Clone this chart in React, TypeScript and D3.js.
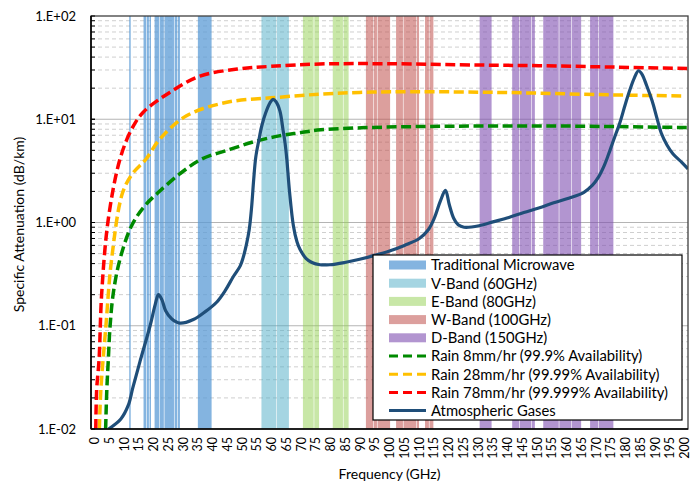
import React, { useRef, useEffect } from 'react';
import * as d3 from 'd3';

// Rain attenuation curves (frequency GHz -> dB/km)
const rain8Freq = [4.9, 5.3, 5.8, 6.4, 7.5, 9.7, 13.6, 18, 22.5, 30, 37, 46.5, 55, 63, 70, 77, 92, 110, 130, 155, 175, 200];
const rain8Val = [0.01, 0.024, 0.047, 0.1, 0.21, 0.44, 0.93, 1.45, 1.95, 3.0, 4.1, 5.1, 6.1, 6.9, 7.4, 7.9, 8.3, 8.5, 8.6, 8.6, 8.5, 8.3];

const rain28Freq = [2.8, 3.3, 5.0, 6.9, 10.6, 14, 18.4, 23, 32, 45.5, 61.6, 76.7, 90, 104, 130, 150, 175, 199];
const rain28Val = [0.01, 0.024, 0.1, 0.44, 1.95, 3.0, 4.1, 6.4, 10.8, 14.6, 16.2, 17.5, 18.2, 18.5, 18.3, 17.9, 17.2, 16.8];

const rain78Freq = [1.6, 1.9, 2.7, 3.6, 5.8, 9.7, 13.6, 17.5, 26.5, 36.5, 49, 60, 76.7, 100, 130, 150, 175, 200];
const rain78Val = [0.01, 0.024, 0.047, 0.21, 1.08, 4.1, 8.0, 11.7, 18.3, 26.2, 30.6, 32.5, 34.3, 34.5, 33.5, 33, 32, 31];

// Atmospheric gases
const gasFreq = [5.9, 10, 12.5, 14, 16.4, 19.8, 21.5, 22.6, 23.7, 25, 27, 29.8, 34.3, 38, 42, 45, 47.7, 50, 51, 52, 53, 53.8, 54.5, 55.2, 56.2, 57.2, 58.5, 60, 61, 62, 63.3, 64.3, 65, 65.6, 66.5, 67.8, 69, 70, 72, 74, 76.7, 80, 85, 90, 95, 100, 105, 110, 113, 115, 117, 118.75, 120, 121.5, 123, 125, 130, 135, 140, 145, 150, 155, 160, 165, 168, 170, 172, 173.3, 175, 177.2, 179, 180.6, 182, 183.4, 184.5, 186.2, 188, 189.5, 191, 193, 195, 198, 200];
const gasVal = [0.01, 0.0125, 0.017, 0.025, 0.045, 0.1, 0.16, 0.2, 0.18, 0.14, 0.117, 0.106, 0.115, 0.135, 0.168, 0.22, 0.3, 0.38, 0.46, 0.6, 0.85, 1.4, 2.6, 4.3, 6.2, 8.6, 11.5, 14.5, 15.6, 14.8, 12.0, 8.0, 5.9, 4.1, 2.0, 0.93, 0.65, 0.55, 0.45, 0.41, 0.39, 0.39, 0.41, 0.44, 0.48, 0.53, 0.6, 0.7, 0.85, 1.1, 1.6, 2.05, 1.5, 1.1, 0.95, 0.9, 0.93, 1.02, 1.12, 1.25, 1.38, 1.55, 1.72, 1.95, 2.3, 2.75, 3.6, 4.5, 6.2, 9.3, 14, 19.5, 25, 29.5, 27.5, 21, 15, 10.5, 7.4, 5.6, 4.6, 3.8, 3.3];

// Frequency bands (GHz)
const microwaveBands = [[12.8, 13.3], [17.6, 18.5], [18.7, 19.4], [19.6, 20.1], [21.3, 22.8], [23.0, 24.4], [24.6, 27.8], [28.0, 28.9], [29.1, 29.8], [35.8, 40.4]];
const vBands = [[57.1, 62.1], [62.3, 66.3]];
const eBands = [[71, 74.6], [74.8, 76.4], [81, 84.4], [84.6, 86.3]];
const wBands = [[92.1, 94.5], [94.7, 95.8], [96.0, 100.2], [102.2, 104.5], [104.7, 109.0], [109.2, 109.9], [111.9, 113.2], [113.4, 114.7]];
const dBands = [[130.2, 134.2], [141.1, 143.4], [143.6, 147.5], [147.7, 148.7], [151.5, 156.7], [156.9, 160.9], [161.1, 164.2], [167.2, 169.9], [170.1, 175]];

const xTickValues = [0, 5, 10, 15, 20, 25, 30, 35, 40, 45, 50, 55, 60, 65, 70, 75, 80, 85, 90, 95, 100, 105, 110, 115, 120, 125, 130, 135, 140, 145, 150, 155, 160, 165, 170, 175, 180, 185, 190, 195, 200];
const yTickValues = [0.01, 0.1, 1, 10, 100];
const yTickLabels = ['1.E-02', '1.E-01', '1.E+00', '1.E+01', '1.E+02'];

const legendNames = [
    'Traditional Microwave', 'V-Band (60GHz)', 'E-Band (80GHz)', 'W-Band (100GHz)', 'D-Band (150GHz)',
    'Rain 8mm/hr (99.9% Availability)', 'Rain 28mm/hr (99.99% Availability)', 'Rain 78mm/hr (99.999% Availability)',
    'Atmospheric Gases'
];

const FONT = "Lato, 'Open Sans', sans-serif";

const App = () => {
    const svgRef = useRef<SVGSVGElement>(null);

    useEffect(() => {
        const svg = d3.select(svgRef.current);
        svg.selectAll('*').remove();

        const left = 91, right = 688, top = 16, bottom = 429;
        const x = d3.scaleLinear().domain([0, 200]).range([left, right]);
        // labels sit slightly inside the ends of the axis
        const xLabel = d3.scaleLinear().domain([0, 200]).range([94.5, 684.5]);
        const y = d3.scaleLog().domain([0.01, 100]).range([bottom, top]);

        // clip for curves
        svg.append('defs').append('clipPath').attr('id', 'plotclip')
            .append('rect').attr('x', left).attr('y', top).attr('width', right - left).attr('height', bottom - top);

        // grid lines
        const grid = svg.append('g');
        [0.01, 0.1, 1, 10].forEach(dec => {
            for (let m = 2; m <= 9; m++) {
                grid.append('line')
                    .attr('x1', left).attr('x2', right)
                    .attr('y1', y(dec * m)).attr('y2', y(dec * m))
                    .attr('stroke', '#cfcfcf').attr('stroke-width', 1).attr('stroke-dasharray', '4,3');
            }
            if (dec > 0.01) {
                grid.append('line')
                    .attr('x1', left).attr('x2', right)
                    .attr('y1', y(dec)).attr('y2', y(dec))
                    .attr('stroke', '#b4b4b4').attr('stroke-width', 1.2);
            }
        });

        // bands
        const bandSets = [
            { ranges: microwaveBands, color: '#5B9BD5', op: 0.75 },
            { ranges: vBands, color: '#4BACC6', op: 0.5 },
            { ranges: eBands, color: '#92D050', op: 0.5 },
            { ranges: wBands, color: '#C0504D', op: 0.55 },
            { ranges: dBands, color: '#7F4FB0', op: 0.6 },
        ];
        const bandsG = svg.append('g');
        bandSets.forEach(b => {
            bandsG.selectAll(null)
                .data(b.ranges)
                .enter()
                .append('rect')
                .attr('x', d => x(d[0]))
                .attr('width', d => x(d[1]) - x(d[0]))
                .attr('y', top)
                .attr('height', bottom - top)
                .attr('fill', b.color)
                .attr('fill-opacity', b.op);
        });

        // curves
        const line = d3.line<[number, number]>()
            .x(d => x(d[0]))
            .y(d => y(d[1]))
            .curve(d3.curveCatmullRom.alpha(0.5));
        const curves = [
            { f: rain8Freq, v: rain8Val, color: '#008A00', dash: '10,4.5', w: 3.5 },
            { f: rain28Freq, v: rain28Val, color: '#FFC000', dash: '10,4.5', w: 3.5 },
            { f: rain78Freq, v: rain78Val, color: '#FF0000', dash: '10,4.5', w: 3.5 },
            { f: gasFreq, v: gasVal, color: '#1F4E79', dash: null, w: 3.2 },
        ];
        const curvesG = svg.append('g').attr('clip-path', 'url(#plotclip)');
        curves.forEach(c => {
            const pts = c.f.map((f, i) => [f, c.v[i]] as [number, number]);
            curvesG.append('path')
                .attr('d', line(pts))
                .attr('fill', 'none')
                .attr('stroke', c.color)
                .attr('stroke-width', c.w)
                .attr('stroke-dasharray', c.dash)
                .attr('stroke-linejoin', 'round');
        });

        // frame
        svg.append('rect')
            .attr('x', left).attr('y', top).attr('width', right - left).attr('height', bottom - top)
            .attr('fill', 'none').attr('stroke', '#404040').attr('stroke-width', 1.3);
        svg.append('line').attr('x1', left).attr('x2', left).attr('y1', top).attr('y2', bottom)
            .attr('stroke', '#000').attr('stroke-width', 1.6);
        svg.append('line').attr('x1', left).attr('x2', right).attr('y1', bottom).attr('y2', bottom)
            .attr('stroke', '#000').attr('stroke-width', 1.6);

        // y ticks (inside)
        const yt = svg.append('g');
        [0.01, 0.1, 1, 10].forEach(dec => {
            for (let m = 1; m <= 10; m++) {
                yt.append('line')
                    .attr('x1', left).attr('x2', left + 4)
                    .attr('y1', y(dec * m)).attr('y2', y(dec * m))
                    .attr('stroke', '#000').attr('stroke-width', 1);
            }
        });
        yt.selectAll('text')
            .data(yTickValues)
            .enter()
            .append('text')
            .attr('x', left - 15)
            .attr('y', d => y(d))
            .attr('dy', '0.36em')
            .attr('text-anchor', 'end')
            .style('font-family', FONT)
            .style('font-size', '13px')
            .attr('fill', '#000')
            .text((d, i) => yTickLabels[i]);

        // x tick labels (rotated)
        svg.append('g').selectAll('text')
            .data(xTickValues)
            .enter()
            .append('text')
            .attr('transform', d => `translate(${xLabel(d)},${bottom + 8}) rotate(-90)`)
            .attr('dy', '0.36em')
            .attr('text-anchor', 'end')
            .style('font-family', FONT)
            .style('font-size', '12.5px')
            .attr('fill', '#000')
            .text(d => String(d));

        // axis titles
        svg.append('text')
            .attr('x', 389.5)
            .attr('y', 479)
            .attr('text-anchor', 'middle')
            .style('font-family', FONT)
            .style('font-size', '14px')
            .text('Frequency (GHz)');
        svg.append('text')
            .attr('transform', `translate(24,${(top + bottom) / 2 + 2}) rotate(-90)`)
            .attr('text-anchor', 'middle')
            .style('font-family', FONT)
            .style('font-size', '14px')
            .text('Specific Attenuation (dB/km)');

        // legend
        const lg = svg.append('g');
        lg.append('rect')
            .attr('x', 373).attr('y', 255).attr('width', 309).attr('height', 165)
            .attr('fill', '#fff').attr('stroke', '#000').attr('stroke-width', 1.2);
        const items = legendNames.map((name, i) => {
            if (i < 5) return { name, kind: 'band', color: bandSets[i].color, op: bandSets[i].op };
            const c = curves[i - 5];
            return { name, kind: 'line', color: c.color, dash: c.dash };
        });
        items.forEach((it: any, i) => {
            const cy = 265 + i * 18.2;
            if (it.kind === 'band') {
                lg.append('rect')
                    .attr('x', 389).attr('y', cy - 4.5).attr('width', 37).attr('height', 9)
                    .attr('fill', it.color).attr('fill-opacity', it.op);
            } else {
                lg.append('line')
                    .attr('x1', 389).attr('x2', 426).attr('y1', cy).attr('y2', cy)
                    .attr('stroke', it.color).attr('stroke-width', 3)
                    .attr('stroke-dasharray', it.dash ? '9,5' : null);
            }
            lg.append('text')
                .attr('x', 431).attr('y', cy)
                .attr('dy', '0.36em')
                .style('font-family', FONT)
                .style('font-size', '14.8px')
                .attr('fill', '#000')
                .text(it.name);
        });
    }, []);

    return (
        <svg ref={svgRef} width={692} height={486}
            style={{ position: 'absolute', left: 0, top: 0, background: '#fff' }} />
    );
};

export default App;
